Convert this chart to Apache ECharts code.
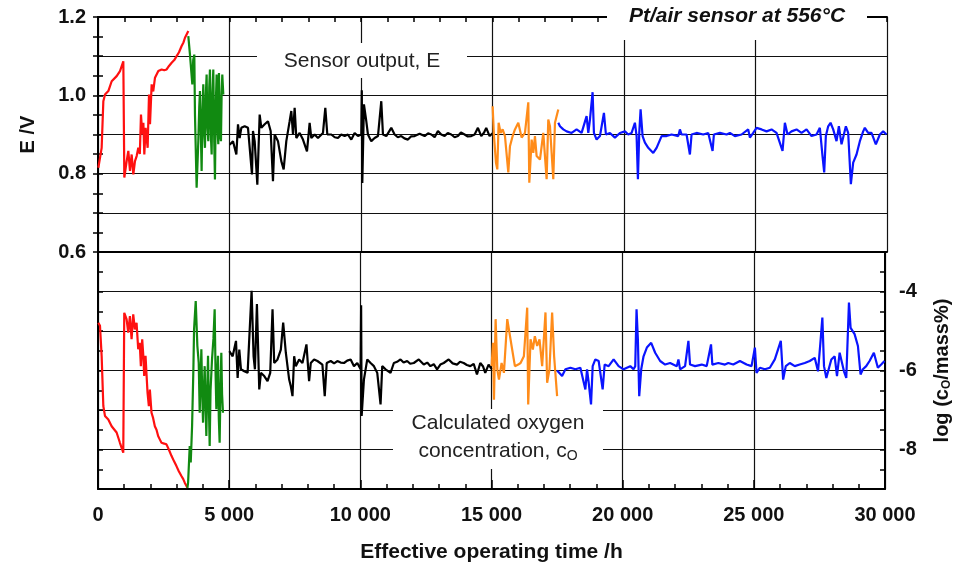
<!DOCTYPE html>
<html>
<head>
<meta charset="utf-8">
<script src="https://cdn.jsdelivr.net/npm/echarts@6/dist/echarts.min.js"></script>
<style>
  html, body { margin: 0; padding: 0; background: #fff; }
  #main { width: 961px; height: 565px; }
</style>
</head>
<body>
<div id="main"></div>
<script>
// sensor output E /V, [time /h, E]
const redE = [[13,0.815],[139,0.866],[203,0.985],[266,1.002],[393,1.011],[520,1.036],[583,1.032],[710,1.049],[836,1.062],[963,1.087],[1001,0.79],[1090,0.832],[1153,0.858],[1216,0.807],[1280,0.849],[1343,0.798],[1406,0.832],[1470,0.845],[1533,0.866],[1590,0.85],[1634,0.951],[1685,0.9],[1725,0.93],[1761,0.849],[1812,0.917],[1850,0.89],[1888,0.866],[1939,1.002],[1977,0.926],[2040,1.028],[2100,1.01],[2167,1.045],[2230,1.04],[2293,1.062],[2360,1.058],[2420,1.066],[2520,1.064],[2610,1.066],[2700,1.075],[2800,1.083],[2900,1.09],[2990,1.1],[3080,1.11],[3180,1.126],[3250,1.135],[3307,1.147],[3380,1.152],[3434,1.164]];
const greenE = [[3434,1.151],[3497,1.104],[3560,1.109],[3586,1.028],[3620,1.09],[3662,1.104],[3687,0.951],[3750,0.764],[3814,0.883],[3850,0.97],[3877,1.011],[3940,0.807],[3970,0.95],[4004,1.028],[4040,0.9],[4067,0.866],[4100,1.0],[4130,1.053],[4160,0.92],[4194,0.883],[4230,1.02],[4257,1.066],[4290,0.9],[4321,0.849],[4350,1.0],[4384,1.066],[4420,0.88],[4447,0.785],[4480,0.98],[4511,1.053],[4540,0.92],[4574,0.875],[4599,1.057],[4640,0.9],[4675,0.883],[4700,1.0],[4726,1.053],[4764,1.002]];
const blackE = [[5006,0.874],[5133,0.883],[5260,0.849],[5323,0.926],[5386,0.891],[5450,0.917],[5577,0.921],[5703,0.917],[5855,0.798],[5893,0.909],[5957,0.883],[6058,0.772],[6147,0.951],[6210,0.917],[6337,0.926],[6463,0.934],[6565,0.909],[6653,0.781],[6717,0.9],[6843,0.883],[6970,0.832],[7059,0.811],[7160,0.883],[7287,0.934],[7350,0.96],[7414,0.9],[7477,0.968],[7540,0.891],[7667,0.904],[7794,0.887],[7946,0.857],[8047,0.93],[8111,0.891],[8237,0.9],[8364,0.891],[8554,0.904],[8643,0.968],[8719,0.9],[8871,0.9],[9000,0.893],[9124,0.891],[9250,0.9],[9378,0.896],[9500,0.9],[9631,0.887],[9758,0.904],[9884,0.896],[10011,0.9],[10030,1.013],[10050,0.776],[10112,0.977],[10201,0.934],[10264,0.9],[10391,0.883],[10518,0.891],[10645,0.896],[10771,0.985],[10835,0.9],[10961,0.896],[11151,0.917],[11278,0.9],[11400,0.893],[11531,0.896],[11650,0.89],[11785,0.887],[11900,0.895],[12038,0.896],[12228,0.902],[12418,0.896],[12550,0.903],[12672,0.9],[12800,0.893],[12925,0.909],[13050,0.9],[13179,0.896],[13300,0.904],[13432,0.9],[13560,0.893],[13685,0.896],[13800,0.905],[13939,0.9],[14060,0.895],[14192,0.896],[14320,0.9],[14446,0.917],[14572,0.896],[14680,0.905],[14762,0.917],[14889,0.896],[15016,0.904]];
const orangeE = [[15005,0.972],[15056,0.896],[15132,0.828],[15183,0.811],[15233,0.93],[15309,0.904],[15385,0.913],[15474,0.896],[15601,0.803],[15664,0.87],[15766,0.896],[15854,0.913],[15981,0.93],[16108,0.892],[16234,0.904],[16361,0.982],[16399,0.777],[16488,0.887],[16551,0.853],[16614,0.896],[16678,0.845],[16805,0.836],[16931,0.904],[17058,0.786],[17121,0.938],[17185,0.921],[17311,0.786],[17375,0.93],[17501,0.964]];
const blueE = [[17501,0.93],[17565,0.921],[17691,0.913],[17818,0.908],[18008,0.904],[18198,0.913],[18388,0.904],[18578,0.947],[18642,0.904],[18705,0.938],[18806,1.008],[18857,0.904],[18958,0.887],[19085,0.896],[19237,0.955],[19313,0.9],[19465,0.904],[19655,0.892],[19845,0.904],[20035,0.908],[20162,0.9],[20289,0.904],[20415,0.93],[20479,0.896],[20529,0.786],[20580,0.904],[20631,0.964],[20707,0.896],[20796,0.879],[20922,0.866],[21112,0.853],[21239,0.866],[21429,0.896],[21619,0.896],[21809,0.9],[22063,0.896],[22126,0.913],[22189,0.9],[22379,0.9],[22506,0.849],[22569,0.9],[22759,0.904],[23013,0.9],[23203,0.904],[23368,0.858],[23418,0.9],[23646,0.904],[23900,0.9],[24026,0.904],[24216,0.896],[24470,0.9],[24723,0.913],[24787,0.892],[24913,0.904],[25040,0.917],[25230,0.913],[25420,0.908],[25610,0.913],[25800,0.904],[26028,0.858],[26117,0.93],[26218,0.9],[26370,0.908],[26560,0.913],[26750,0.904],[26941,0.913],[27131,0.896],[27321,0.9],[27447,0.917],[27548,0.845],[27612,0.803],[27675,0.896],[27764,0.921],[27853,0.93],[27954,0.913],[28081,0.883],[28170,0.921],[28271,0.875],[28436,0.921],[28524,0.904],[28626,0.773],[28714,0.828],[28841,0.849],[28968,0.883],[29094,0.908],[29157,0.917],[29284,0.904],[29411,0.904],[29576,0.875],[29728,0.9],[29855,0.908],[29981,0.9]];

// calculated oxygen concentration, [time /h, log(cO/mass%)]
const redLog = [[13,-4.79],[76,-4.87],[139,-5.63],[203,-6.9],[266,-7.15],[393,-7.24],[520,-7.41],[583,-7.36],[710,-7.57],[836,-7.83],[963,-8.08],[1001,-4.54],[1090,-4.7],[1153,-5.04],[1216,-4.62],[1280,-5.21],[1343,-4.58],[1406,-4.96],[1470,-4.79],[1533,-5.46],[1590,-5.3],[1634,-5.89],[1685,-5.21],[1725,-5.6],[1761,-6.14],[1812,-5.63],[1850,-6.1],[1888,-6.56],[1939,-6.9],[1977,-6.48],[2040,-7.07],[2100,-7.2],[2167,-7.41],[2230,-7.5],[2293,-7.66],[2360,-7.75],[2420,-7.83],[2520,-7.85],[2610,-7.87],[2700,-8.0],[2800,-8.16],[2900,-8.3],[2990,-8.42],[3080,-8.55],[3180,-8.67],[3250,-8.75],[3307,-8.84],[3408,-8.97]];
const greenLog = [[3408,-8.97],[3434,-8.84],[3497,-7.91],[3535,-8.33],[3586,-7.41],[3636,-5.97],[3662,-4.96],[3725,-4.24],[3788,-5.38],[3839,-5.8],[3877,-7.07],[3940,-5.46],[3970,-6.5],[4004,-7.32],[4040,-6.4],[4067,-5.89],[4100,-6.9],[4130,-7.66],[4160,-6.6],[4194,-5.63],[4230,-7.0],[4257,-7.91],[4290,-6.5],[4346,-5.72],[4400,-5.2],[4447,-4.45],[4480,-6.0],[4511,-6.98],[4540,-6.2],[4574,-5.63],[4605,-7.2],[4637,-7.83],[4670,-6.4],[4701,-5.55],[4730,-6.6],[4764,-7.07]];
const blackLog = [[5006,-5.51],[5133,-5.64],[5260,-5.25],[5323,-6.19],[5386,-5.47],[5450,-5.97],[5577,-6.02],[5703,-6.06],[5855,-3.98],[5931,-5.64],[5982,-5.97],[6058,-4.32],[6147,-6.48],[6210,-6.06],[6337,-6.14],[6463,-6.27],[6565,-6.06],[6653,-4.45],[6717,-5.81],[6843,-5.72],[6970,-5.47],[7059,-4.79],[7160,-5.55],[7287,-6.23],[7350,-6.4],[7414,-6.65],[7477,-5.64],[7540,-5.89],[7667,-5.72],[7794,-5.81],[7946,-5.34],[8047,-6.27],[8111,-5.81],[8237,-5.72],[8364,-5.76],[8554,-5.85],[8643,-6.65],[8719,-5.81],[8871,-5.76],[9000,-5.82],[9124,-5.76],[9250,-5.8],[9378,-5.81],[9500,-5.75],[9631,-5.72],[9758,-5.89],[9884,-5.81],[10011,-5.97],[10030,-4.35],[10050,-7.15],[10137,-6.23],[10264,-5.72],[10391,-5.81],[10518,-5.89],[10645,-6.06],[10771,-6.86],[10835,-5.89],[10961,-5.97],[11151,-6.06],[11278,-5.81],[11400,-5.78],[11531,-5.72],[11650,-5.8],[11785,-5.76],[11900,-5.83],[12038,-5.81],[12228,-5.72],[12418,-5.85],[12550,-5.8],[12672,-5.89],[12800,-5.84],[12925,-5.97],[13050,-5.85],[13179,-5.81],[13368,-5.72],[13520,-5.82],[13685,-5.85],[13800,-5.78],[13939,-5.81],[14060,-5.86],[14192,-5.89],[14320,-5.83],[14446,-6.1],[14572,-5.81],[14680,-5.9],[14762,-6.06],[14889,-5.85],[15016,-5.97]];
const orangeLog = [[15005,-5.89],[15056,-5.3],[15094,-6.74],[15157,-4.7],[15221,-5.97],[15284,-6.23],[15385,-5.81],[15474,-6.06],[15601,-4.7],[15664,-4.96],[15766,-5.38],[15892,-5.89],[16019,-5.85],[16108,-5.81],[16234,-5.64],[16361,-4.41],[16399,-6.86],[16488,-5.21],[16576,-5.47],[16652,-5.13],[16741,-5.38],[16830,-5.21],[16931,-5.89],[17058,-4.53],[17121,-6.31],[17210,-5.97],[17311,-4.53],[17387,-5.64],[17501,-6.65]];
const blueLog = [[17501,-6.0],[17565,-5.97],[17691,-6.14],[17818,-5.97],[18008,-5.93],[18198,-5.97],[18388,-5.93],[18578,-6.48],[18642,-5.97],[18705,-6.31],[18794,-6.86],[18857,-5.89],[18958,-5.72],[19085,-5.76],[19237,-6.48],[19313,-5.85],[19465,-5.89],[19655,-5.72],[19845,-5.89],[20035,-5.97],[20162,-5.93],[20289,-5.89],[20415,-5.97],[20479,-5.89],[20529,-4.45],[20580,-5.21],[20631,-6.65],[20707,-5.97],[20796,-5.64],[20922,-5.42],[21087,-5.3],[21239,-5.55],[21429,-5.76],[21619,-5.85],[21809,-5.81],[22063,-5.89],[22126,-5.72],[22189,-5.97],[22379,-5.89],[22506,-5.25],[22569,-5.85],[22759,-5.89],[23013,-5.85],[23203,-5.89],[23368,-5.34],[23418,-5.85],[23646,-5.81],[23900,-5.85],[24026,-5.81],[24216,-5.85],[24470,-5.76],[24723,-5.85],[24913,-5.89],[25040,-5.42],[25103,-6.06],[25230,-5.93],[25420,-5.97],[25610,-5.93],[25800,-5.72],[26028,-5.25],[26117,-6.23],[26218,-5.89],[26370,-5.81],[26560,-5.89],[26750,-5.85],[26941,-5.81],[27131,-5.76],[27321,-5.68],[27447,-6.02],[27548,-5.21],[27612,-4.66],[27675,-5.89],[27764,-6.19],[27853,-5.97],[27954,-5.72],[28081,-5.64],[28170,-6.14],[28271,-5.55],[28436,-6.02],[28524,-6.19],[28626,-4.28],[28689,-4.92],[28841,-5.08],[28968,-5.38],[29068,-6.1],[29157,-5.97],[29284,-5.89],[29411,-5.76],[29576,-5.55],[29728,-5.93],[29855,-5.85],[29981,-5.76]];

// labelled ticks
const eTickLabels = [0.6, 0.8, 1.0, 1.2];
const logTickLabels = [-4, -6, -8];

const font = "'Liberation Sans', Arial, sans-serif";
const myChart = echarts.init(document.getElementById('main'));

const frame = { show: true, lineStyle: { color: '#000', width: 2 } };
const tick = { show: true, inside: true, length: 5, lineStyle: { color: '#000', width: 1.5 } };
const minor = { show: true, splitNumber: 2, length: 5, lineStyle: { color: '#000', width: 1.5 } };
const grid = { show: true, lineStyle: { color: '#111', width: 1.2 } };
const boldLabel = { fontFamily: font, fontWeight: 'bold', fontSize: 20, color: '#111' };

function line(name, data, color, axis) {
  return {
    name: name, type: 'line', data: data,
    xAxisIndex: axis, yAxisIndex: axis * 2,
    showSymbol: false, symbol: 'none',
    lineStyle: { color: color, width: 2.2 },
    z: 3
  };
}

const option = {
  animation: false,
  backgroundColor: '#fff',
  grid: [
    { left: 98, right: 74, top: 17, height: 235 },
    { left: 98, right: 74, top: 252, height: 237 }
  ],
  xAxis: [
    { // top panel, divider line + vertical grid
      gridIndex: 0, type: 'value', position: 'bottom', min: 0, max: 30000, interval: 5000,
      axisLine: frame, axisTick: { show: false }, axisLabel: { show: false },
      splitLine: grid
    },
    { // bottom panel, labelled axis
      gridIndex: 1, type: 'value', position: 'bottom', min: 0, max: 30000, interval: 5000,
      axisLine: frame, axisTick: Object.assign({}, tick, { length: 9 }),
      minorTick: Object.assign({}, minor, { splitNumber: 5 }),
      splitLine: grid,
      axisLabel: Object.assign({}, boldLabel, {
        margin: 16,
        formatter: v => v === 0 ? '0' : (v / 1000) + ' 000'
      }),
      name: 'Effective operating time /h', nameLocation: 'middle', nameGap: 53,
      nameTextStyle: { fontFamily: font, fontWeight: 'bold', fontSize: 21, color: '#111' }
    },
    { // top frame with ticks
      gridIndex: 0, type: 'value', position: 'top', min: 0, max: 30000, interval: 5000,
      axisLine: frame, axisTick: tick,
      minorTick: Object.assign({}, minor, { splitNumber: 5 }),
      axisLabel: { show: false }, splitLine: { show: false }
    }
  ],
  yAxis: [
    {
      gridIndex: 0, type: 'value', position: 'left', min: 0.6, max: 1.2, interval: 0.1,
      axisLine: frame, axisTick: tick, minorTick: minor, splitLine: grid,
      axisLabel: Object.assign({}, boldLabel, {
        margin: 12,
        formatter: v => eTickLabels.some(t => Math.abs(t - v) < 1e-6) ? v.toFixed(1) : ''
      }),
      name: 'E /V', nameLocation: 'middle', nameGap: 60,
      nameTextStyle: { fontFamily: font, fontWeight: 'bold', fontSize: 20, color: '#111' }
    },
    {
      gridIndex: 0, type: 'value', position: 'right', min: 0.6, max: 1.2, interval: 0.1,
      axisLine: frame, axisTick: tick, minorTick: minor,
      splitLine: { show: false }, axisLabel: { show: false }
    },
    {
      gridIndex: 1, type: 'value', position: 'left', min: -9, max: -3, interval: 1,
      axisLine: frame, axisTick: tick, minorTick: minor, splitLine: grid,
      axisLabel: { show: false }
    },
    {
      gridIndex: 1, type: 'value', position: 'right', min: -9, max: -3, interval: 1,
      axisLine: frame, axisTick: tick, minorTick: minor, splitLine: { show: false },
      axisLabel: Object.assign({}, boldLabel, {
        margin: 14,
        formatter: v => logTickLabels.indexOf(v) >= 0 ? String(v) : ''
      }),
      name: 'log (c{sub|O}/mass%)', nameLocation: 'middle', nameGap: 46,
      nameTextStyle: {
        fontFamily: font, fontWeight: 'bold', fontSize: 20, color: '#111',
        rich: { sub: { fontFamily: font, fontWeight: 'bold', fontSize: 12, color: '#111', padding: [10, 0, 0, 0] } }
      }
    }
  ],
  graphic: [
    // white gaps in the grid behind the annotations
    { type: 'rect', z: 1, shape: { x: 257, y: 43, width: 210, height: 35 }, style: { fill: '#fff' } },
    { type: 'rect', z: 1, shape: { x: 607, y: 0, width: 260, height: 40 }, style: { fill: '#fff' } },
    { type: 'rect', z: 1, shape: { x: 393, y: 409, width: 210, height: 60 }, style: { fill: '#fff' } },
    { type: 'text', z: 4, x: 737, y: 16, style: { text: 'Pt/air sensor at 556°C', fill: '#111',
        font: 'italic bold 21px ' + font, align: 'center', verticalAlign: 'middle' } },
    { type: 'text', z: 4, x: 362, y: 61, style: { text: 'Sensor output, E', fill: '#222',
        font: '21px ' + font, align: 'center', verticalAlign: 'middle' } },
    { type: 'text', z: 4, x: 498, y: 423, style: { text: 'Calculated oxygen', fill: '#222',
        font: '21px ' + font, align: 'center', verticalAlign: 'middle' } },
    { type: 'text', z: 4, x: 498, y: 451, style: {
        text: 'concentration, c{sub|O}', fill: '#222',
        font: '21px ' + font, align: 'center', verticalAlign: 'middle',
        rich: { sub: { fontSize: 14, fontFamily: font, fill: '#222', padding: [10, 0, 0, 0] } } } }
  ],
  series: [
    line('red E', redE, '#ff1010', 0),
    line('green E', greenE, '#118a11', 0),
    line('black E', blackE, '#000000', 0),
    line('orange E', orangeE, '#ff8c1a', 0),
    line('blue E', blueE, '#0a14ff', 0),
    line('red log', redLog, '#ff1010', 1),
    line('green log', greenLog, '#118a11', 1),
    line('black log', blackLog, '#000000', 1),
    line('orange log', orangeLog, '#ff8c1a', 1),
    line('blue log', blueLog, '#0a14ff', 1)
  ]
};
myChart.setOption(option);
</script>
</body>
</html>
